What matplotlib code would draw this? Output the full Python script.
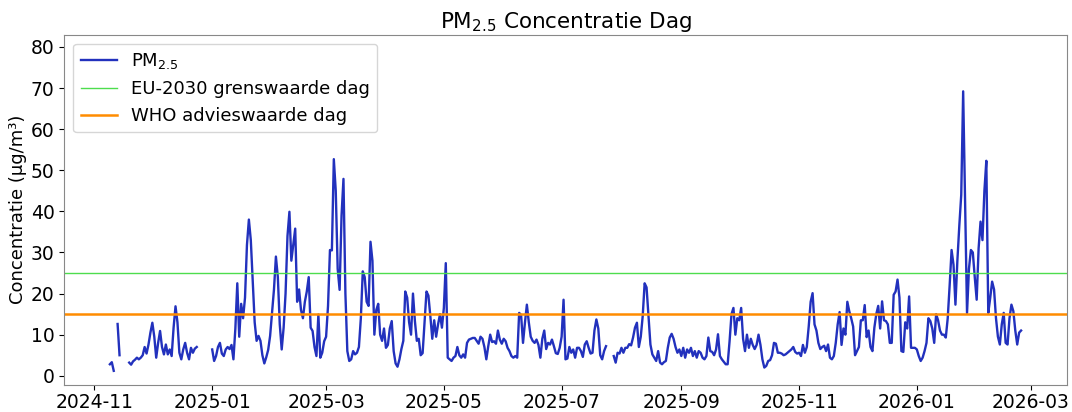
import numpy as np
import pandas as pd
import matplotlib
matplotlib.use("Agg")
import matplotlib.pyplot as plt

nan = np.nan

# daily PM2.5 values, first day 2024-11-09, last day 2026-02-24 (NaN = no data)
start_date = "2024-11-09"
pm25 = [
    2.8, 3.3, 1.2, nan, 12.6, 5.0, nan, nan, nan, nan,                 # Nov 9 - 18
    3.2, 2.7, 3.5, 3.9, 4.4, 4.0, 4.4, 5.0, 7.0, 5.4,                  # Nov 19 - 28
    7.6, 10.5, 12.9, 9.5, 4.4, 8.0, 10.9, 7.0, 5.2, 7.6,               # Nov 29 - Dec 8
    5.2, 6.4, 4.8, 11.7, 16.9, 13.0, 5.6, 4.0, 6.4, 8.0,               # Dec 9 - 18
    5.6, 4.0, 6.8, 5.6, 6.6, 7.0, nan, nan, nan, nan,                  # Dec 19 - 28
    nan, nan, nan, 6.4, 3.6, 4.8, 7.0, 8.0, 5.4, 4.8,                  # Dec 29 - Jan 7
    6.4, 7.0, 6.5, 7.5, 4.0, 11.5, 22.5, 9.5, 17.5, 14.0,              # Jan 8 - 17
    19.0, 31.8, 38.0, 33.0, 23.0, 13.0, 8.5, 9.7, 8.5, 5.0,            # Jan 18 - 27
    3.0, 4.5, 6.3, 9.7, 15.5, 21.0, 29.0, 24.0, 12.5, 6.4,             # Jan 28 - Feb 6
    11.7, 20.0, 34.0, 39.9, 28.0, 32.0, 35.8, 18.0, 21.0, 16.0,        # Feb 7 - 16
    14.0, 18.0, 20.5, 24.0, 11.7, 10.9, 7.0, 4.8, 14.9, 4.4,           # Feb 17 - 26
    5.6, 8.4, 9.5, 17.0, 30.6, 30.5, 52.7, 45.0, 26.0, 20.9,           # Feb 27 - Mar 8
    39.0, 47.9, 20.0, 6.0, 3.6, 4.0, 6.0, 5.2, 5.6, 7.0,               # Mar 9 - 18
    14.0, 25.4, 24.0, 18.0, 17.0, 32.6, 28.0, 10.0, 16.0, 17.5,        # Mar 19 - 28
    10.0, 8.5, 11.5, 6.8, 7.5, 11.5, 13.3, 6.0, 3.0, 2.2,              # Mar 29 - Apr 7
    4.0, 6.5, 8.5, 20.5, 19.0, 13.0, 10.0, 20.0, 13.3, 8.5,            # Apr 8 - 17
    9.0, 5.0, 5.5, 13.0, 20.5, 19.5, 14.5, 9.0, 13.5, 9.5,             # Apr 18 - 27
    12.5, 15.0, 11.7, 16.5, 27.4, 4.4, 4.0, 3.6, 4.4, 4.8,             # Apr 28 - May 7
    7.0, 5.0, 4.4, 5.2, 4.4, 8.0, 8.8, 9.0, 9.2, 9.2,                  # May 8 - 17
    8.5, 7.8, 9.5, 9.0, 7.0, 4.0, 7.2, 10.0, 8.2, 8.4,                 # May 18 - 27
    7.8, 11.0, 8.8, 7.8, 9.0, 8.4, 6.8, 6.0, 4.8, 4.4,                 # May 28 - Jun 6
    4.8, 4.4, 15.3, 14.8, 8.0, 12.9, 17.3, 13.0, 9.5, 8.5,             # Jun 7 - 16
    8.0, 8.8, 7.5, 4.4, 9.0, 11.0, 6.5, 8.0, 7.6, 8.8,                 # Jun 17 - 26
    7.2, 5.5, 5.3, 6.8, 9.5, 18.5, 4.0, 4.2, 7.0, 5.6,                 # Jun 27 - Jul 6
    6.4, 4.4, 6.8, 6.8, 6.0, 4.6, 7.6, 8.4, 6.8, 5.4,                  # Jul 7 - 16
    5.6, 11.0, 13.7, 11.5, 5.0, 4.0, 6.0, 7.2, nan, nan,               # Jul 17 - 26
    nan, 4.8, 3.2, 5.6, 5.4, 6.8, 5.6, 6.8, 6.8, 7.7,                  # Jul 27 - Aug 5
    7.4, 9.3, 11.7, 12.9, 7.0, 9.5, 14.5, 22.5, 21.5, 14.5,            # Aug 6 - 15
    7.6, 5.2, 4.4, 3.6, 6.0, 3.2, 2.8, 3.3, 3.6, 6.8,                  # Aug 16 - 25
    9.3, 10.2, 9.0, 7.0, 5.6, 6.4, 4.8, 6.8, 4.4, 6.4,                 # Aug 26 - Sep 4
    5.6, 6.8, 4.8, 6.0, 4.4, 6.0, 5.6, 4.4, 4.0, 4.8,                  # Sep 5 - 14
    9.3, 6.0, 5.8, 5.0, 6.4, 10.1, 4.8, 4.0, 3.4, 2.8,                 # Sep 15 - 24
    2.8, 8.4, 15.0, 16.5, 10.0, 14.0, 13.5, 16.5, 9.0, 6.0,            # Sep 25 - Oct 4
    10.0, 6.8, 9.0, 7.5, 6.5, 7.5, 10.0, 7.5, 4.0, 2.0,                # Oct 5 - 14
    2.4, 3.6, 3.8, 5.0, 8.0, 7.8, 5.6, 5.6, 5.4, 5.0,                  # Oct 15 - 24
    5.2, 5.6, 6.0, 6.4, 7.0, 5.8, 5.4, 5.6, 4.8, 7.5,                  # Oct 25 - Nov 3
    5.6, 7.0, 12.0, 18.0, 20.1, 12.5, 11.0, 8.0, 6.5, 7.0,             # Nov 4 - 13
    7.3, 6.0, 7.6, 4.4, 4.0, 4.8, 8.0, 12.5, 15.5, 7.5,                # Nov 14 - 23
    11.5, 10.0, 18.0, 15.7, 14.0, 12.0, 5.0, 6.0, 7.0, 13.5,           # Nov 24 - Dec 3
    13.5, 17.2, 9.4, 11.0, 7.0, 6.0, 11.7, 15.0, 17.0, 11.5,           # Dec 4 - 13
    18.1, 13.5, 13.3, 12.5, 8.0, 8.0, 19.7, 20.5, 23.4, 19.0,          # Dec 14 - 23
    6.0, 5.8, 13.0, 11.5, 19.3, 6.8, 6.8, 6.8, 6.4, 4.8,               # Dec 24 - Jan 2
    3.6, 4.4, 6.0, 8.0, 14.0, 13.3, 11.5, 8.0, 15.0, 13.5,             # Jan 3 - 12
    11.0, 10.0, 10.0, 9.3, 14.0, 22.0, 30.6, 27.0, 17.3, 28.0,         # Jan 13 - 22
    36.5, 44.0, 69.2, 42.0, 15.3, 26.0, 30.6, 30.0, 24.0, 18.5,        # Jan 23 - Feb 1
    31.0, 37.5, 33.0, 45.0, 52.3, 15.3, 18.9, 22.9, 21.0, 14.0,        # Feb 2 - 11
    9.5, 7.6, 12.5, 15.3, 8.0, 7.6, 14.0, 17.3, 15.7, 11.0,            # Feb 12 - 21
    7.6, 10.5, 11.0,                                                   # Feb 22 - 24
]
dates = pd.date_range(start_date, periods=len(pm25), freq="D")

eu_2030_day = 25
who_day = 15

plt.rcParams["font.size"] = 13
plt.rcParams["xtick.labelsize"] = 13.5
plt.rcParams["ytick.labelsize"] = 13.5
plt.rcParams["xtick.major.pad"] = 2.5

fig, ax = plt.subplots(figsize=(10.72, 4.12), dpi=100)
fig.subplots_adjust(left=0.06, right=0.995, top=0.916, bottom=0.066)

ax.plot(dates, pm25, color="#2231bd", linewidth=1.7, label="PM$_{2.5}$")
ax.axhline(eu_2030_day, color="#4ddd4d", linewidth=1.0, label="EU-2030 grenswaarde dag")
ax.axhline(who_day, color="#ff8c00", linewidth=1.8, label="WHO advieswaarde dag")

ax.set_ylim(-2.2, 83)
ax.set_title("PM$_{2.5}$ Concentratie Dag", fontsize=15.5, pad=5)
ax.set_ylabel("Concentratie (µg/m³)", labelpad=3)
ax.legend(loc="upper left")

for sp in ax.spines.values():
    sp.set_color("#888888")

fig.savefig("out.png", dpi=100)
